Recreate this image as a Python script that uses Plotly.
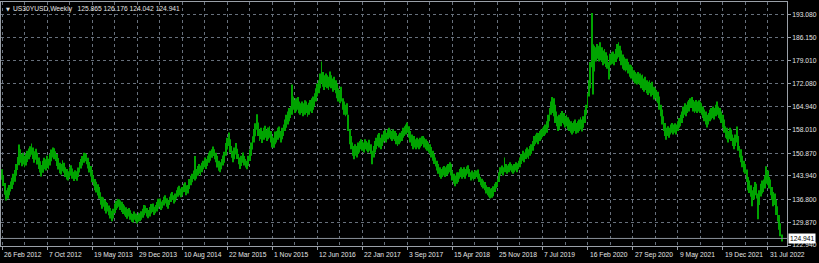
import pandas as pd
import plotly.graph_objects as go

symbol_title = "US30YUSD,Weekly"
last_bar_ohlc = [125.865, 126.176, 124.042, 124.941]
first_week = "2012-02-26"

lows = [
    142.8, 140.9, 138.2, 136.5, 137.0, 138.1, 139.2, 140.0, 141.3, 142.2,
    144.0, 145.8, 147.2, 148.0, 146.9, 147.4, 146.6, 147.1, 148.2, 149.0,
    149.8, 150.4, 149.1, 148.0, 148.9, 147.4, 146.1, 145.0, 143.8, 144.9,
    146.0, 145.6, 146.4, 146.0, 147.1, 148.4, 149.6, 149.0, 148.5, 147.0,
    145.9, 144.8, 144.4, 145.4, 144.9, 143.6, 142.9, 142.6, 143.4, 144.0,
    143.1, 142.4, 143.0, 142.5, 143.6, 145.0, 146.2, 147.1, 148.0, 148.4,
    147.5, 146.2, 145.0, 143.8, 142.0, 140.9, 139.6, 138.9, 138.0, 137.0,
    135.2, 134.0, 134.6, 133.4, 132.5, 133.1, 132.0, 131.0, 130.2, 131.0,
    132.6, 133.6, 134.1, 134.6, 133.6, 133.0, 132.4, 131.9, 131.5, 130.9,
    131.6, 130.6, 130.0, 129.8, 130.6, 130.1, 129.5, 130.0, 130.2, 130.6,
    131.2, 132.0, 132.6, 131.6, 131.1, 131.6, 132.5, 133.0, 132.1, 132.6,
    133.1, 134.0, 134.6, 133.6, 134.1, 135.0, 135.6, 134.6, 134.0, 135.1,
    136.0, 136.6, 135.6, 136.1, 137.0, 137.6, 138.1, 137.5, 138.0, 139.0,
    139.1, 138.1, 138.6, 140.0, 141.1, 142.0, 143.0, 142.6, 143.1, 144.0,
    144.6, 144.1, 145.1, 146.0, 146.6, 146.1, 147.0, 148.0, 148.6, 149.5,
    150.0, 149.0, 148.1, 146.5, 145.5, 145.1, 146.0, 147.1, 148.0, 150.1,
    152.0, 153.1, 151.0, 149.5, 148.1, 149.0, 150.5, 149.1, 147.5, 146.1,
    147.0, 148.0, 147.1, 146.5, 146.0, 147.0, 148.5, 150.1, 152.0, 154.1,
    156.0, 158.0, 156.1, 154.6, 155.1, 154.0, 155.0, 155.6, 154.6, 155.1,
    155.6, 154.1, 152.6, 152.5, 153.6, 154.1, 155.0, 155.6, 154.1, 155.1,
    156.1, 157.6, 158.6, 159.6, 160.6, 161.6, 162.6, 164.1, 163.1, 163.6,
    164.1, 163.0, 162.6, 163.1, 162.1, 162.6, 163.1, 162.0, 162.6, 163.6,
    163.1, 164.1, 165.1, 166.6, 168.1, 169.1, 170.6, 172.1, 171.1, 170.1,
    171.0, 170.6, 170.1, 171.1, 170.6, 169.6, 170.1, 169.1, 167.6, 166.6,
    166.1, 166.6, 164.1, 162.6, 162.1, 162.6, 157.6, 153.6, 152.1, 150.1,
    149.0, 150.1, 149.6, 150.6, 151.1, 152.1, 151.6, 151.1, 152.1, 151.6,
    151.1, 151.6, 150.6, 147.5, 149.6, 151.1, 152.1, 153.1, 152.6, 152.1,
    153.1, 154.1, 154.6, 154.1, 155.1, 155.6, 155.1, 154.6, 155.1, 154.6,
    153.6, 153.1, 153.6, 154.1, 154.6, 155.6, 156.1, 156.6, 157.1, 155.6,
    154.1, 153.1, 152.1, 152.6, 152.1, 152.6, 152.1, 152.6, 153.1, 153.6,
    152.6, 152.1, 151.6, 151.1, 150.6, 149.6, 148.6, 147.6, 146.8, 145.6,
    144.6, 143.6, 143.1, 143.6, 144.1, 143.6, 144.1, 144.6, 145.1, 144.1,
    142.6, 141.6, 140.8, 141.6, 142.1, 143.1, 143.6, 143.1, 143.6, 143.1,
    144.1, 144.6, 143.6, 142.6, 143.1, 142.6, 143.1, 143.6, 143.1, 142.1,
    141.1, 140.6, 140.1, 139.6, 138.6, 138.1, 137.6, 137.1, 137.3, 137.8,
    139.1, 140.1, 140.6, 142.1, 144.1, 144.6, 144.1, 145.1, 145.1, 144.6,
    145.1, 145.6, 145.1, 144.6, 145.1, 145.6, 145.1, 146.1, 146.6, 147.6,
    148.6, 148.1, 149.1, 149.6, 149.1, 150.1, 150.6, 151.6, 153.1, 153.6,
    154.1, 153.6, 154.6, 155.1, 155.7, 156.1, 156.6, 157.1, 158.6, 160.6,
    162.6, 163.1, 162.1, 160.1, 159.1, 157.6, 158.1, 159.1, 160.1, 159.6,
    158.7, 159.1, 158.1, 157.6, 157.1, 156.6, 157.1, 157.6, 156.8, 157.1,
    157.6, 158.1, 157.5, 158.6, 160.1, 162.6, 164.6, 168.1, 170.6, 177.0,
    168.7, 175.7, 178.8, 179.6, 178.8, 179.1, 178.6, 177.6, 178.1, 177.1,
    176.6, 173.3, 177.6, 177.9, 178.1, 177.6, 178.6, 179.6, 180.1, 179.1,
    177.6, 176.6, 176.1, 175.7, 176.1, 175.1, 174.1, 173.6, 173.1, 172.6,
    172.1, 171.8, 172.1, 171.6, 170.6, 170.1, 169.6, 170.1, 169.1, 168.6,
    169.1, 168.1, 168.6, 167.2, 167.6, 166.6, 166.1, 164.1, 162.1, 159.6,
    157.6, 156.1, 155.0, 156.1, 155.6, 156.6, 157.1, 156.6, 157.1, 156.6,
    157.6, 158.6, 159.1, 160.1, 161.6, 162.6, 162.1, 163.1, 163.6, 164.6,
    164.6, 163.6, 163.1, 163.6, 163.1, 163.6, 163.1, 162.6, 161.6, 160.6,
    159.6, 158.7, 159.6, 160.6, 161.1, 161.6, 161.1, 162.1, 162.6, 161.6,
    161.1, 160.1, 158.6, 157.1, 155.6, 155.1, 154.1, 155.1, 154.6, 153.1,
    152.1, 153.1, 154.1, 151.6, 149.6, 148.1, 146.6, 145.1, 144.6, 142.1,
    139.6, 138.8, 137.6, 134.7, 136.8, 138.1, 137.1, 130.8, 135.1, 137.7,
    138.6, 139.1, 140.1, 141.6, 141.1, 140.1, 138.1, 136.6, 134.7, 135.1,
    132.1, 130.1, 127.6, 125.6, 124.042,
]

highs = [
    146.0, 144.2, 141.8, 139.6, 140.4, 141.2, 142.3, 143.4, 144.6, 145.8,
    147.6, 149.7, 153.5, 152.1, 150.6, 151.0, 150.1, 150.8, 151.6, 152.3,
    153.0, 153.8, 152.6, 151.5, 152.2, 151.0, 149.6, 148.4, 147.3, 148.6,
    149.5, 149.0, 150.1, 149.2, 150.6, 152.0, 152.6, 152.4, 151.5, 150.6,
    149.4, 148.0, 147.6, 148.7, 148.0, 146.6, 146.1, 145.4, 146.6, 147.2,
    146.2, 145.2, 145.7, 145.4, 146.5, 148.2, 149.1, 150.0, 151.0, 150.9,
    150.6, 149.5, 148.2, 147.0, 145.6, 144.1, 143.0, 142.2, 141.4, 140.6,
    139.0, 137.6, 137.4, 136.6, 136.0, 135.7, 135.0, 134.2, 133.4, 134.0,
    135.6, 136.4, 137.0, 136.9, 136.5, 136.1, 135.4, 135.0, 134.4, 133.9,
    134.2, 133.5, 132.6, 132.4, 133.1, 132.5, 132.1, 132.8, 132.6, 133.2,
    134.0, 135.1, 135.0, 134.2, 133.6, 134.5, 135.4, 135.6, 134.6, 135.1,
    136.0, 137.0, 137.1, 136.2, 136.6, 137.6, 138.1, 137.2, 136.6, 137.6,
    138.6, 139.1, 138.1, 138.6, 139.6, 140.5, 141.0, 140.1, 140.6, 141.6,
    142.0, 141.1, 141.2, 143.0, 144.0, 144.6, 145.6, 150.0, 146.1, 147.0,
    147.6, 147.1, 148.0, 148.6, 149.6, 149.1, 150.1, 151.0, 151.6, 152.1,
    152.9, 152.1, 151.0, 150.1, 148.6, 148.1, 149.1, 150.2, 151.3, 154.0,
    155.6, 157.2, 155.1, 153.1, 151.6, 152.6, 154.0, 152.2, 150.6, 149.6,
    150.1, 151.1, 150.0, 149.1, 148.6, 150.1, 152.0, 154.1, 156.0, 158.1,
    160.0, 162.7, 160.2, 158.1, 158.6, 157.6, 158.6, 159.2, 158.0, 158.7,
    159.1, 157.6, 156.1, 155.6, 157.5, 157.6, 158.6, 159.0, 157.6, 158.6,
    159.6, 161.1, 162.6, 163.6, 164.6, 165.1, 171.8, 168.1, 167.1, 167.6,
    168.0, 166.6, 166.1, 166.6, 166.1, 167.0, 166.6, 165.6, 166.2, 167.1,
    167.6, 168.1, 169.1, 170.6, 172.1, 173.1, 175.1, 178.8, 175.6, 174.6,
    175.1, 174.6, 174.1, 175.7, 174.6, 173.6, 174.1, 173.1, 172.0, 170.6,
    170.1, 171.1, 167.6, 166.6, 165.6, 166.1, 162.6, 158.1, 156.1, 154.1,
    153.1, 153.6, 153.1, 154.1, 154.6, 155.1, 154.6, 154.1, 155.1, 154.6,
    154.1, 155.0, 153.6, 151.6, 153.1, 154.6, 155.6, 156.6, 157.0, 155.6,
    156.6, 157.6, 158.0, 157.1, 158.1, 158.6, 158.1, 157.6, 158.1, 157.6,
    157.0, 156.1, 156.6, 157.1, 157.6, 158.6, 159.1, 159.6, 160.2, 159.1,
    157.6, 156.6, 155.6, 156.1, 155.1, 155.6, 155.1, 155.6, 156.0, 156.1,
    155.6, 155.1, 154.6, 154.1, 153.6, 152.8, 151.6, 150.6, 149.6, 148.6,
    147.6, 146.6, 146.1, 146.6, 147.0, 146.6, 147.1, 147.6, 148.1, 147.6,
    145.6, 144.6, 144.1, 145.0, 145.1, 146.1, 146.6, 146.1, 146.6, 146.1,
    146.8, 147.2, 146.1, 145.1, 145.6, 145.1, 145.6, 145.6, 145.9, 144.6,
    143.6, 143.1, 142.6, 142.1, 141.1, 140.6, 140.6, 140.1, 140.3, 140.8,
    141.6, 142.1, 143.1, 145.1, 146.6, 147.1, 146.6, 149.6, 147.6, 147.1,
    147.6, 148.1, 147.6, 147.1, 147.6, 148.1, 147.8, 148.6, 149.6, 150.6,
    151.6, 151.1, 152.1, 152.6, 152.1, 153.1, 153.6, 154.6, 156.1, 156.6,
    157.1, 157.0, 157.6, 158.1, 158.6, 159.1, 159.6, 160.6, 162.6, 164.6,
    166.6, 168.0, 167.6, 165.6, 163.6, 162.1, 162.6, 163.1, 163.7, 163.1,
    162.1, 162.6, 161.8, 161.1, 160.6, 160.1, 160.6, 161.1, 160.1, 160.6,
    161.1, 161.8, 161.1, 162.1, 164.1, 165.6, 169.1, 173.1, 178.6, 193.5,
    184.0, 183.6, 183.1, 184.1, 183.6, 184.6, 183.1, 182.1, 182.6, 181.6,
    180.6, 178.6, 181.1, 181.6, 181.8, 181.1, 182.6, 184.1, 184.6, 183.6,
    182.1, 180.9, 180.1, 179.6, 179.6, 178.6, 177.9, 177.6, 177.1, 176.1,
    175.6, 175.1, 175.6, 175.1, 174.6, 174.8, 173.6, 174.1, 173.1, 172.6,
    173.1, 172.1, 172.6, 171.1, 170.6, 170.1, 169.6, 168.1, 165.6, 164.2,
    162.1, 160.1, 158.6, 159.1, 158.6, 159.6, 160.1, 159.6, 160.0, 159.6,
    160.6, 161.6, 162.6, 163.6, 165.1, 166.1, 165.6, 166.6, 167.1, 167.6,
    168.0, 167.1, 166.6, 167.1, 166.6, 167.0, 166.6, 166.1, 165.1, 164.2,
    163.6, 162.6, 163.1, 164.1, 164.6, 165.1, 164.6, 165.6, 166.6, 165.1,
    164.6, 163.6, 162.6, 161.1, 159.1, 158.6, 157.6, 158.6, 158.1, 156.6,
    155.6, 156.6, 159.0, 156.1, 153.1, 152.1, 150.1, 148.6, 147.6, 145.9,
    143.6, 142.6, 141.1, 139.6, 140.6, 142.1, 141.6, 138.6, 139.6, 141.6,
    142.6, 142.9, 144.1, 146.9, 145.6, 143.6, 142.9, 140.6, 139.1, 138.6,
    136.6, 134.7, 132.1, 129.6, 126.176,
]

y_tick_labels = ["193.080", "186.150", "179.010", "172.080", "164.940", "158.010",
                 "150.870", "143.940", "136.800", "129.870", "122.940"]

x_tick_labels = ["26 Feb 2012", "7 Oct 2012", "19 May 2013", "29 Dec 2013", "10 Aug 2014",
                 "22 Mar 2015", "1 Nov 2015", "12 Jun 2016", "22 Jan 2017", "3 Sep 2017",
                 "15 Apr 2018", "25 Nov 2018", "7 Jul 2019", "16 Feb 2020", "27 Sep 2020",
                 "9 May 2021", "19 Dec 2021", "31 Jul 2022"]

# ---- derived ----
start = pd.Timestamp(first_week)
weeks = pd.date_range(start, periods=len(lows), freq="7D")
spans = [h - l for h, l in zip(highs, lows)]
tick_dates = pd.to_datetime(x_tick_labels, format="%d %b %Y")
minor_dates = tick_dates + pd.Timedelta(weeks=16)

FG = "#e4e4e4"
GRID = "#67707c"
FRAME = "#9aa0a8"
FONT = "Liberation Sans, Arial, sans-serif"
FS = 6.7

fig = go.Figure()
fig.add_trace(go.Bar(
    x=weeks, y=spans, base=lows,
    width=7 * 24 * 3600 * 1000 * 0.6,
    marker=dict(color="#00a400", line=dict(width=0)),
    hoverinfo="skip",
))

annotations = []
for lbl, d in zip(x_tick_labels, tick_dates):
    annotations.append(dict(
        x=d, xref="x", y=0, yref="paper", yanchor="top", xanchor="left",
        xshift=0, yshift=-3, text=lbl, showarrow=False,
        font=dict(family=FONT, size=FS, color=FG),
    ))

annotations.append(dict(
    x=0, xref="paper", y=1, yref="paper", xanchor="left", yanchor="top",
    xshift=3, yshift=-2, text="\u25BC", showarrow=False,
    font=dict(family="DejaVu Sans", size=5, color=FG),
))
annotations.append(dict(
    x=0, xref="paper", y=1, yref="paper", xanchor="left", yanchor="top",
    xshift=10, yshift=-1,
    text=symbol_title + "\u00a0\u00a0 " + " ".join(f"{v:.3f}" for v in last_bar_ohlc),
    showarrow=False,
    font=dict(family=FONT, size=FS, color=FG),
))
annotations.append(dict(
    x=1, xref="paper", y=last_bar_ohlc[3], yref="y", xanchor="left", yanchor="middle",
    xshift=1, text=f"{last_bar_ohlc[3]:.3f}", showarrow=False,
    bgcolor="#ffffff", borderpad=1,
    font=dict(family=FONT, size=FS, color="#000000"),
))

fig.update_layout(
    width=819, height=263,
    margin=dict(l=1, r=32, t=2, b=17),
    paper_bgcolor="#000000", plot_bgcolor="#000000",
    showlegend=False,
    annotations=annotations,
    shapes=[dict(type="line", xref="paper", x0=0, x1=1, yref="y",
                 y0=last_bar_ohlc[3], y1=last_bar_ohlc[3],
                 line=dict(color="#8a9099", width=1), layer="above")],
    xaxis=dict(
        type="date",
        range=[start - pd.Timedelta(days=5), start + pd.Timedelta(days=3904)],
        tickvals=tick_dates, showticklabels=False,
        ticks="outside", ticklen=3, tickcolor=FRAME, tickwidth=1,
        showgrid=True, gridcolor=GRID, griddash="dot", gridwidth=1,
        minor=dict(tickvals=minor_dates, showgrid=True, gridcolor=GRID,
                   griddash="dot", gridwidth=1, ticks=""),
        showline=True, linecolor=FRAME, linewidth=1, mirror=True,
        zeroline=False, fixedrange=True,
    ),
    yaxis=dict(
        side="right",
        range=[122.64, 196.88],
        tickvals=[float(t) for t in y_tick_labels], ticktext=y_tick_labels,
        ticks="outside", ticklen=3, tickcolor=FRAME, tickwidth=1,
        tickfont=dict(family=FONT, size=FS, color=FG),
        showgrid=True, gridcolor=GRID, griddash="dot", gridwidth=1,
        showline=True, linecolor=FRAME, linewidth=1, mirror=True,
        zeroline=False, fixedrange=True,
    ),
)

fig.write_html("out.html")
